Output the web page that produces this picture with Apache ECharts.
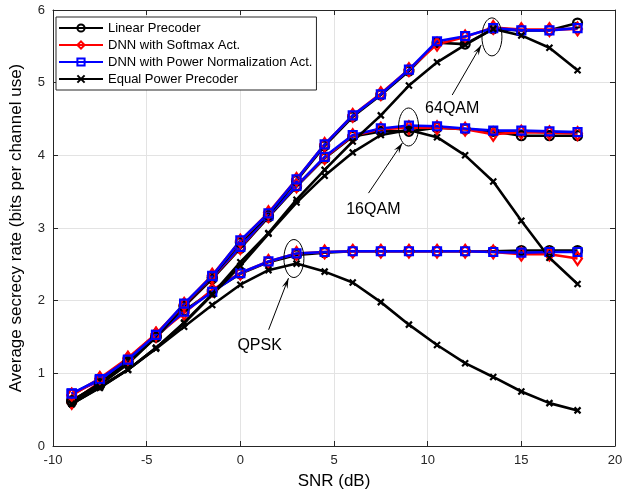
<!DOCTYPE html>
<html>
<head>
<meta charset="UTF-8">
<title>secrecy rate</title>
<script src="https://cdn.jsdelivr.net/npm/echarts@6/dist/echarts.min.js"></script>
<style>
  html, body { margin: 0; padding: 0; background: #fff; }
  #main { width: 641px; height: 498px; }
</style>
</head>
<body>
<div id="main"></div>
<script>
// SNR points (dB)
var snr = [-9, -7.5, -6, -4.5, -3, -1.5, 0, 1.5, 3, 4.5, 6, 7.5, 9, 10.5, 12, 13.5, 15, 16.5, 18];

// QPSK
var linQ = [0.61, 0.84, 1.13, 1.50, 1.86, 2.13, 2.37, 2.53, 2.63, 2.66, 2.68, 2.68, 2.68, 2.68, 2.68, 2.68, 2.69, 2.69, 2.69];
var smQ  = [0.60, 0.88, 1.17, 1.52, 1.83, 2.15, 2.38, 2.54, 2.65, 2.67, 2.68, 2.68, 2.68, 2.68, 2.68, 2.67, 2.64, 2.64, 2.58];
var pnQ  = [0.72, 0.90, 1.17, 1.52, 1.85, 2.12, 2.38, 2.54, 2.65, 2.67, 2.68, 2.68, 2.68, 2.68, 2.68, 2.67, 2.66, 2.67, 2.67];
var eqQ  = [0.58, 0.80, 1.05, 1.34, 1.64, 1.94, 2.22, 2.42, 2.51, 2.40, 2.25, 1.98, 1.67, 1.39, 1.14, 0.95, 0.75, 0.59, 0.49];

// 16QAM
var lin16 = [0.62, 0.85, 1.15, 1.50, 1.92, 2.30, 2.72, 3.15, 3.57, 3.96, 4.26, 4.33, 4.33, 4.38, 4.36, 4.33, 4.27, 4.27, 4.27];
var sm16  = [0.70, 0.92, 1.20, 1.54, 1.93, 2.32, 2.73, 3.17, 3.58, 3.97, 4.27, 4.36, 4.38, 4.38, 4.36, 4.29, 4.32, 4.31, 4.30];
var pn16  = [0.72, 0.91, 1.18, 1.53, 1.94, 2.33, 2.74, 3.17, 3.58, 3.98, 4.28, 4.37, 4.41, 4.40, 4.37, 4.34, 4.34, 4.33, 4.32];
var eq16  = [0.58, 0.81, 1.05, 1.35, 1.69, 2.08, 2.48, 2.92, 3.35, 3.72, 4.04, 4.28, 4.35, 4.25, 4.00, 3.64, 3.10, 2.59, 2.23];

// 64QAM
var lin64 = [0.62, 0.86, 1.16, 1.51, 1.93, 2.33, 2.80, 3.18, 3.65, 4.13, 4.53, 4.83, 5.16, 5.55, 5.53, 5.74, 5.72, 5.72, 5.82];
var sm64  = [0.70, 0.93, 1.21, 1.54, 1.95, 2.35, 2.82, 3.21, 3.67, 4.15, 4.55, 4.85, 5.18, 5.53, 5.63, 5.76, 5.73, 5.73, 5.74];
var pn64  = [0.72, 0.92, 1.19, 1.53, 1.96, 2.34, 2.83, 3.20, 3.67, 4.15, 4.55, 4.84, 5.18, 5.57, 5.64, 5.75, 5.72, 5.72, 5.75];
var eq64  = [0.58, 0.81, 1.05, 1.35, 1.70, 2.09, 2.53, 2.93, 3.39, 3.80, 4.19, 4.55, 4.96, 5.28, 5.52, 5.74, 5.65, 5.48, 5.17];

var legendNames = ['Linear Precoder', 'DNN with Softmax Act.', 'DNN with Power Normalization Act.', 'Equal Power Precoder'];

// annotations, in data units: label, label pos, arrow tail, arrow head, ellipse centre
var notes = [
  { text: 'QPSK',  label: [1.03, 1.38],  tail: [1.51, 1.60],  head: [2.57, 2.31],  ell: [2.86, 2.58] },
  { text: '16QAM', label: [7.10, 3.26],  tail: [6.84, 3.48],  head: [8.65, 4.17],  ell: [8.98, 4.39] },
  { text: '64QAM', label: [11.31, 4.65], tail: [11.31, 4.83], head: [12.86, 5.52], ell: [13.43, 5.63] }
];

var XMARK = 'path://M0,0L10,10M10,0L0,10';

function pairs(ys) {
  var out = [];
  for (var i = 0; i < snr.length; i++) out.push([snr[i], ys[i]]);
  return out;
}

function mk(name, ys, color, symbol, size) {
  return {
    name: name,
    type: 'line',
    data: pairs(ys),
    symbol: symbol,
    symbolSize: size,
    showAllSymbol: true,
    lineStyle: { color: color, width: 2.6 },
    itemStyle: { color: 'rgba(0,0,0,0)', borderColor: color, borderWidth: 2.2 },
    emphasis: { disabled: true },
    animation: false
  };
}

var series = [];
[[linQ, smQ, pnQ, eqQ], [lin16, sm16, pn16, eq16], [lin64, sm64, pn64, eq64]].forEach(function (g) {
  series.push(mk(legendNames[0], g[0], '#000000', 'circle', 9));
  series.push(mk(legendNames[1], g[1], '#ff0000', 'diamond', [9, 13]));
  series.push(mk(legendNames[2], g[2], '#0000ff', 'rect', 8));
  series.push(mk(legendNames[3], g[3], '#000000', XMARK, 6));
});

var font = 'Liberation Sans, Arial, sans-serif';
var txt = { color: '#262626', fontSize: 13, fontFamily: font };
var frame = { show: true, onZero: false, lineStyle: { color: '#262626' } };
var ticks = { inside: true, length: 5, lineStyle: { color: '#262626' } };

var chart = echarts.init(document.getElementById('main'));
chart.setOption({
  animation: false,
  backgroundColor: '#fff',
  grid: { left: 52, right: 26, top: 10, bottom: 52 },
  legend: {
    data: legendNames,
    orient: 'vertical',
    left: 56, top: 17,
    itemWidth: 44, itemHeight: 9, itemGap: 1,
    padding: [3, 4, 3, 2],
    backgroundColor: '#fff',
    borderColor: '#262626', borderWidth: 1,
    textStyle: { color: '#000', fontSize: 13, fontFamily: font, lineHeight: 16 },
    selectedMode: false
  },
  xAxis: [{
    type: 'value', min: -10, max: 20, interval: 5,
    name: 'SNR (dB)', nameLocation: 'middle', nameGap: 27,
    nameTextStyle: { color: '#000', fontSize: 17, fontFamily: font },
    axisLine: frame, axisTick: ticks, axisLabel: txt,
    splitLine: { show: true, lineStyle: { color: '#e3e3e3' } }
  }, {
    type: 'value', min: -10, max: 20, interval: 5, position: 'top',
    axisLine: frame, axisTick: ticks,
    axisLabel: { show: false },
    splitLine: { show: false }
  }],
  yAxis: [{
    type: 'value', min: 0, max: 6, interval: 1,
    name: 'Average secrecy rate (bits per channel use)', nameLocation: 'middle', nameGap: 28,
    nameTextStyle: { color: '#000', fontSize: 17, fontFamily: font },
    axisLine: frame, axisTick: ticks, axisLabel: txt,
    splitLine: { show: true, lineStyle: { color: '#e3e3e3' } }
  }, {
    type: 'value', min: 0, max: 6, interval: 1, position: 'right',
    axisLine: frame, axisTick: ticks,
    axisLabel: { show: false },
    splitLine: { show: false }
  }],
  series: series
});

// ellipses, arrows and labels placed through the axes
function px(p) { return chart.convertToPixel({ gridIndex: 0 }, p); }
var gfx = [];
notes.forEach(function (n) {
  var c = px(n.ell), t = px(n.tail), h = px(n.head), l = px(n.label);
  gfx.push({ type: 'ellipse', shape: { cx: c[0], cy: c[1], rx: 10, ry: 19 },
    style: { fill: 'none', stroke: '#000', lineWidth: 1 }, z: 100 });
  gfx.push({ type: 'line', shape: { x1: t[0], y1: t[1], x2: h[0], y2: h[1] },
    style: { stroke: '#000', lineWidth: 1 }, z: 100 });
  var ang = Math.atan2(h[1] - t[1], h[0] - t[0]), L = 11, W = 0.28;
  gfx.push({ type: 'polygon', shape: { points: [
      [h[0], h[1]],
      [h[0] - L * Math.cos(ang - W), h[1] - L * Math.sin(ang - W)],
      [h[0] - L * 0.6 * Math.cos(ang), h[1] - L * 0.6 * Math.sin(ang)],
      [h[0] - L * Math.cos(ang + W), h[1] - L * Math.sin(ang + W)]
    ] }, style: { fill: '#000' }, z: 100 });
  gfx.push({ type: 'text', x: l[0], y: l[1], z: 100,
    style: { text: n.text, fill: '#000', fontSize: 16, fontFamily: font,
      align: 'center', verticalAlign: 'middle' } });
});
chart.setOption({ graphic: gfx });
</script>
</body>
</html>
